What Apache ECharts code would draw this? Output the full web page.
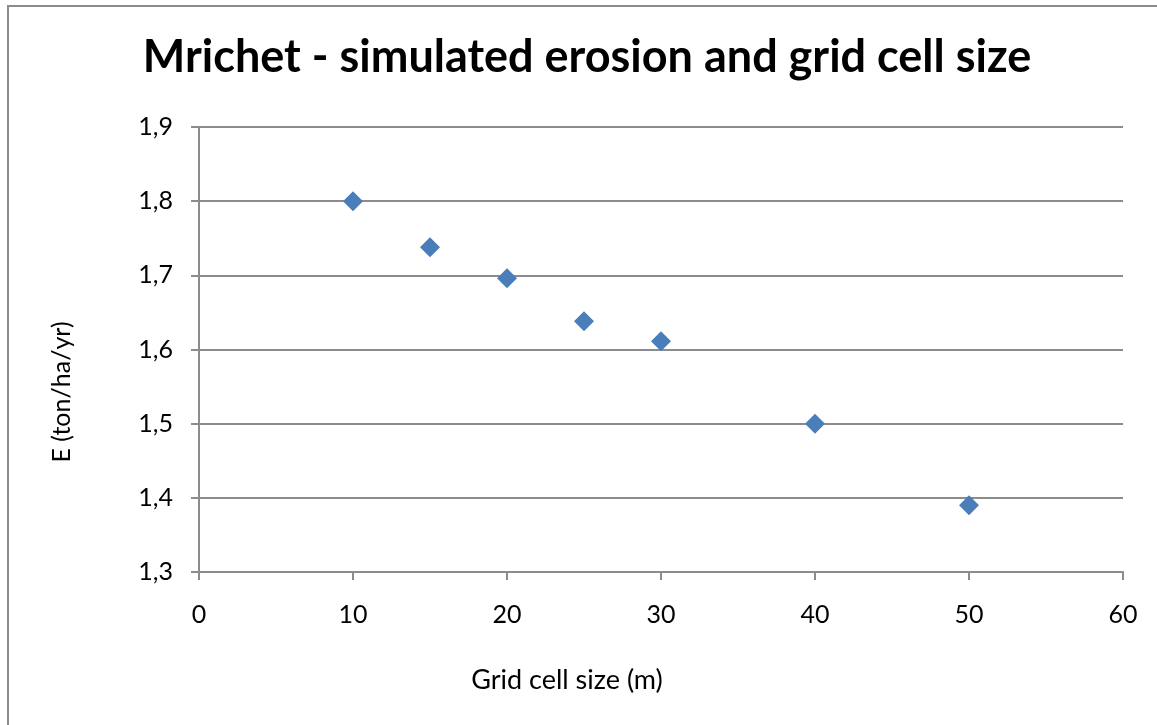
<!DOCTYPE html>
<html>
<head>
<meta charset="utf-8">
<script src="https://cdn.jsdelivr.net/npm/echarts@6/dist/echarts.min.js"></script>
<style>
  html, body { margin: 0; padding: 0; background: #fff; overflow: hidden; }
  #chart { width: 1157px; height: 725px; }
</style>
</head>
<body>
<div id="chart"></div>
<script>
// data
var cellSize = [10, 15, 20, 25, 30, 40, 50]
var erosion = [1.80, 1.738, 1.696, 1.638, 1.611, 1.50, 1.39]
var titleText = 'Mrichet - simulated erosion and grid cell size'
var xName = 'Grid cell size (m)'
var yName = 'E (ton/ha/yr)'

var points = cellSize.map(function (x, i) { return [x, erosion[i]] })

var axisGray = '#8c8c8c'
var font = 'Lato'

var chart = echarts.init(document.getElementById('chart'))
var option = {
  animation: false,
  grid: { left: 199, right: 34, top: 127, bottom: 153, containLabel: false, outerBoundsMode: 'none' },
  xAxis: {
    type: 'value',
    min: 0,
    max: 60,
    interval: 10,
    axisLine: { show: true, lineStyle: { color: axisGray, width: 2 } },
    axisTick: { show: true, length: 8, lineStyle: { color: axisGray, width: 2 } },
    splitLine: { show: false },
    axisLabel: { color: '#000', fontSize: 25, fontFamily: font, margin: 30 }
  },
  yAxis: {
    type: 'value',
    min: 1.3,
    max: 1.9,
    interval: 0.1,
    axisLine: { show: true, lineStyle: { color: axisGray, width: 2 } },
    axisTick: { show: true, length: 8, lineStyle: { color: axisGray, width: 2 } },
    splitLine: { show: true, lineStyle: { color: axisGray, width: 2 } },
    axisLabel: {
      color: '#000', fontSize: 25, fontFamily: font, margin: 26,
      formatter: function (v) { return v.toFixed(1).replace('.', ',') }
    }
  },
  graphic: [
    // outer frame of the chart area
    { type: 'rect', silent: true, shape: { x: 8, y: 6, width: 1200, height: 800 },
      style: { fill: 'none', stroke: axisGray, lineWidth: 2 } },
    { type: 'text', x: 587, y: 57,
      style: { text: titleText, fontSize: 45, fontWeight: 'bold', fontFamily: font, fill: '#000', align: 'center', verticalAlign: 'middle' } },
    { type: 'text', x: 567, y: 680,
      style: { text: xName, fontSize: 27, fontFamily: font, fill: '#000', align: 'center', verticalAlign: 'middle' } },
    { type: 'text', x: 62, y: 392, rotation: Math.PI / 2,
      style: { text: yName, fontSize: 25, fontFamily: font, fill: '#000', align: 'center', verticalAlign: 'middle' } }
  ],
  series: [
    {
      type: 'scatter',
      symbol: 'diamond',
      symbolSize: 20,
      itemStyle: { color: '#4a7ebb', opacity: 1 },
      data: points
    }
  ]
}
chart.setOption(option)
</script>
</body>
</html>
